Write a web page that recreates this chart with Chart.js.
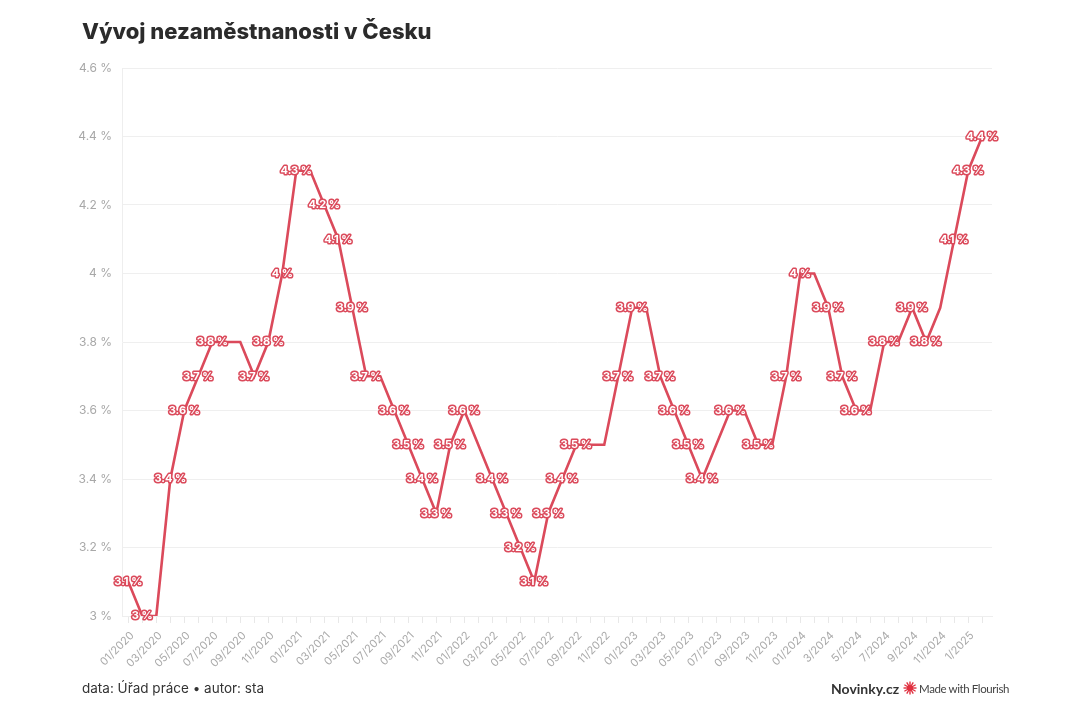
<!DOCTYPE html>
<html>
<head>
<meta charset="utf-8">
<script src="https://cdn.jsdelivr.net/npm/chart.js@4"></script>
<style>
html,body{margin:0;padding:0;background:#fff;width:1080px;height:720px;overflow:hidden;font-family:Inter,Roboto,"Noto Sans",sans-serif}
#c{position:absolute;left:0;top:0}
#title{position:absolute;left:82px;top:18px;font-size:22px;font-weight:800;color:#2b2b2b;white-space:nowrap}
#foot{position:absolute;left:82px;top:680px;font-size:13.5px;color:#333;white-space:nowrap}
#brand{position:absolute;left:831px;top:679px;height:18px;display:flex;align-items:center;white-space:nowrap}
#brand .nv{font-family:Lato,Inter,sans-serif;font-size:14px;font-weight:700;color:#333;margin-right:4px}
#brand .mw{font-family:Lato,Inter,sans-serif;font-size:11.5px;letter-spacing:-0.4px;color:#444;margin-left:2px}
</style>
</head>
<body>
<canvas id="c" width="1080" height="720"></canvas>
<div id="title">Vývoj nezaměstnanosti v Česku</div>
<div id="foot">data: Úřad práce • autor: sta</div>
<div id="brand"><span class="nv">Novinky.cz</span><svg id="logo" width="14" height="14" viewBox="-7 -7 14 14"></svg><span class="mw">Made with Flourish</span></div>
<script>
const months = [
  "01/2020","02/2020","03/2020","04/2020","05/2020","06/2020","07/2020","08/2020","09/2020","10/2020","11/2020","12/2020",
  "01/2021","02/2021","03/2021","04/2021","05/2021","06/2021","07/2021","08/2021","09/2021","10/2021","11/2021","12/2021",
  "01/2022","02/2022","03/2022","04/2022","05/2022","06/2022","07/2022","08/2022","09/2022","10/2022","11/2022","12/2022",
  "01/2023","02/2023","03/2023","04/2023","05/2023","06/2023","07/2023","08/2023","09/2023","10/2023","11/2023","12/2023",
  "01/2024","2/2024","3/2024","4/2024","5/2024","6/2024","7/2024","8/2024","9/2024","10/2024","11/2024","12/2024",
  "1/2025","2/2025"
];
const rates = [
  3.1,3.0,3.0,3.4,3.6,3.7,3.8,3.8,3.8,3.7,3.8,4.0,
  4.3,4.3,4.2,4.1,3.9,3.7,3.7,3.6,3.5,3.4,3.3,3.5,
  3.6,3.5,3.4,3.3,3.2,3.1,3.3,3.4,3.5,3.5,3.5,3.7,
  3.9,3.9,3.7,3.6,3.5,3.4,3.5,3.6,3.6,3.5,3.5,3.7,
  4.0,4.0,3.9,3.7,3.6,3.6,3.8,3.8,3.9,3.8,3.9,4.1,
  4.3,4.4
];
const showLabel = [
  1,1,0,1,1,1,1,0,0,1,1,1,
  1,0,1,1,1,1,0,1,1,1,1,1,
  1,0,1,1,1,1,1,1,1,0,0,1,
  1,0,1,1,1,1,0,1,0,1,0,1,
  1,0,1,1,1,0,1,0,1,1,0,1,
  1,1
];
const yTicks = [3.0,3.2,3.4,3.6,3.8,4.0,4.2,4.4,4.6];

const RED = '#db4a5b';
const fmt = v => (Math.round(v*10)/10).toString() + ' %';

// Flourish logo
(function(){
  const svg = document.getElementById('logo');
  let s = '<circle r="3" fill="#e0303f"/>';
  for (let k=0;k<12;k++){
    const a = k*Math.PI/6;
    s += `<line x1="${(2*Math.cos(a)).toFixed(2)}" y1="${(2*Math.sin(a)).toFixed(2)}" x2="${(6.5*Math.cos(a)).toFixed(2)}" y2="${(6.5*Math.sin(a)).toFixed(2)}" stroke="#e0303f" stroke-width="1.4"/>`;
  }
  svg.innerHTML = s;
})();

const pointLabels = {
  id: 'pointLabels',
  afterDatasetsDraw(chart){
    const ctx = chart.ctx;
    const meta = chart.getDatasetMeta(0);
    ctx.save();
    ctx.font = 'bold 11px Inter, Roboto, sans-serif';
    ctx.textAlign = 'center';
    ctx.textBaseline = 'middle';
    ctx.lineJoin = 'round';
    meta.data.forEach((pt, i) => {
      if (!showLabel[i]) return;
      const t = fmt(rates[i]);
      ctx.lineWidth = 3;
      ctx.strokeStyle = RED;
      ctx.strokeText(t, pt.x, pt.y);
      ctx.fillStyle = '#fff';
      ctx.fillText(t, pt.x, pt.y);
    });
    ctx.restore();
  }
};

new Chart(document.getElementById('c'), {
  type: 'line',
  data: {
    datasets: [{
      data: rates.map((v, i) => ({x: i, y: v})),
      borderColor: RED,
      borderWidth: 2.6,
      pointRadius: 0,
      tension: 0,
      fill: false
    }]
  },
  options: {
    responsive: false,
    animation: false,
    layout: { padding: { top: 68, right: 88, bottom: 34, left: 0 } },
    plugins: { legend: { display: false }, tooltip: { enabled: false } },
    scales: {
      x: {
        type: 'linear',
        min: -0.45,
        max: 61.7,
        afterBuildTicks(s){ s.ticks = months.map((_, i) => ({value: i})); },
        afterFit(s){ s.height = 70; },
        ticks: {
          autoSkip: false,
          minRotation: 45,
          maxRotation: 45,
          color: '#aaaaaa',
          font: { family: 'Inter, Roboto, sans-serif', size: 11 },
          padding: 6,
          labelOffset: 4,
          callback: v => (v % 2 === 0 ? months[v] : '')
        },
        grid: { drawOnChartArea: false, drawTicks: true, tickLength: 7, color: '#e8e8e8' },
        border: { color: '#eeeeee' }
      },
      y: {
        min: 3,
        max: 4.6,
        afterBuildTicks(s){ s.ticks = yTicks.map(v => ({value: v})); },
        afterFit(s){ s.width = 122; },
        ticks: {
          color: '#a8a8a8',
          font: { family: 'Inter, Roboto, sans-serif', size: 12 },
          padding: 10,
          callback: v => fmt(v)
        },
        grid: { color: '#efefef', drawTicks: false },
        border: { color: '#eeeeee' }
      }
    }
  },
  plugins: [pointLabels]
});
</script>
</body>
</html>
